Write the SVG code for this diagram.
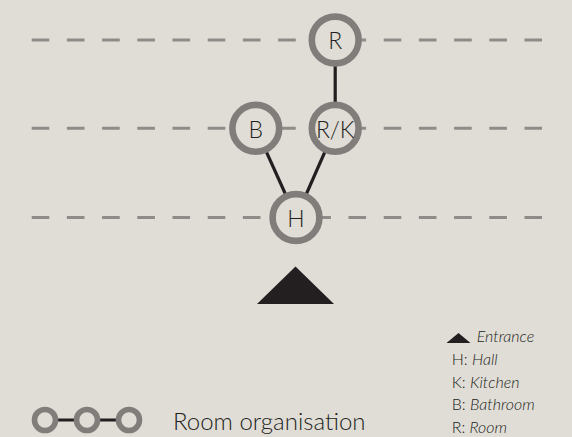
<svg xmlns="http://www.w3.org/2000/svg" width="572" height="437" viewBox="0 0 572 437">
<style>
.dash{stroke:#8e8b88;stroke-width:3;stroke-dasharray:17.6 17.6;fill:none}
.conn{stroke:#231f20;stroke-width:3.2;fill:none}
.ring{fill:#e0ddd7;stroke:#807d7b;stroke-width:6.6}
.lring{fill:#e0ddd7;stroke:#807d7b;stroke-width:5.6}
.lbl{font-family:Lato,"Liberation Sans",sans-serif;font-weight:300;font-size:23px;fill:#231f20;text-anchor:middle}
.leg{font-family:Lato,"Liberation Sans",sans-serif;font-weight:300;font-size:16px;fill:#231f20}
.it{font-style:italic}
</style>
<rect width="572" height="437" fill="#e0ddd7"/>
<g id="gridlines">
<line class="dash" x1="31.7" y1="40" x2="542" y2="40"/>
<line class="dash" x1="31.7" y1="128.3" x2="542" y2="128.3"/>
<line class="dash" x1="31.7" y1="217.5" x2="542" y2="217.5"/>
</g>
<g id="connectors">
<line class="conn" x1="335.2" y1="40" x2="335.2" y2="128.3"/>
<line class="conn" x1="255.8" y1="128.3" x2="296" y2="217.5"/>
<line class="conn" x1="335.2" y1="128.3" x2="296" y2="217.5"/>
</g>
<g id="node-R"><circle class="ring" cx="335.2" cy="40" r="23.4"/><text class="lbl" x="335.2" y="49.3">R</text></g>
<g id="node-B"><circle class="ring" cx="255.8" cy="128.3" r="23.4"/><text class="lbl" x="255.8" y="137.6">B</text></g>
<g id="node-RK"><circle class="ring" cx="335.2" cy="128.3" r="23.4"/><text class="lbl" x="335.2" y="137.6">R/K</text></g>
<g id="node-H"><circle class="ring" cx="296" cy="217.5" r="23.4"/><text class="lbl" x="296" y="226.8">H</text></g>
<g id="entrance"><polygon points="257,304 295.5,266.5 334,304" fill="#231f20"/></g>
<g id="legend-organisation">
<line class="conn" x1="45" y1="420" x2="129" y2="420"/>
<circle class="lring" cx="45" cy="420" r="10.5"/>
<circle class="lring" cx="87" cy="420" r="10.5"/>
<circle class="lring" cx="129" cy="420" r="10.5"/>
<text class="leg" x="173" y="430" style="font-size:24px">Room organisation</text>
</g>
<g id="legend-key">
<polygon points="446.5,343 458.5,333 470.5,343" fill="#231f20"/>
<text class="leg it" x="476.7" y="342">Entrance</text>
<text class="leg" x="451.7" y="365">H: <tspan class="it">Hall</tspan></text>
<text class="leg" x="451.7" y="387.5">K: <tspan class="it">Kitchen</tspan></text>
<text class="leg" x="451.7" y="410">B: <tspan class="it">Bathroom</tspan></text>
<text class="leg" x="451.7" y="432.5">R: <tspan class="it">Room</tspan></text>
</g>
</svg>
